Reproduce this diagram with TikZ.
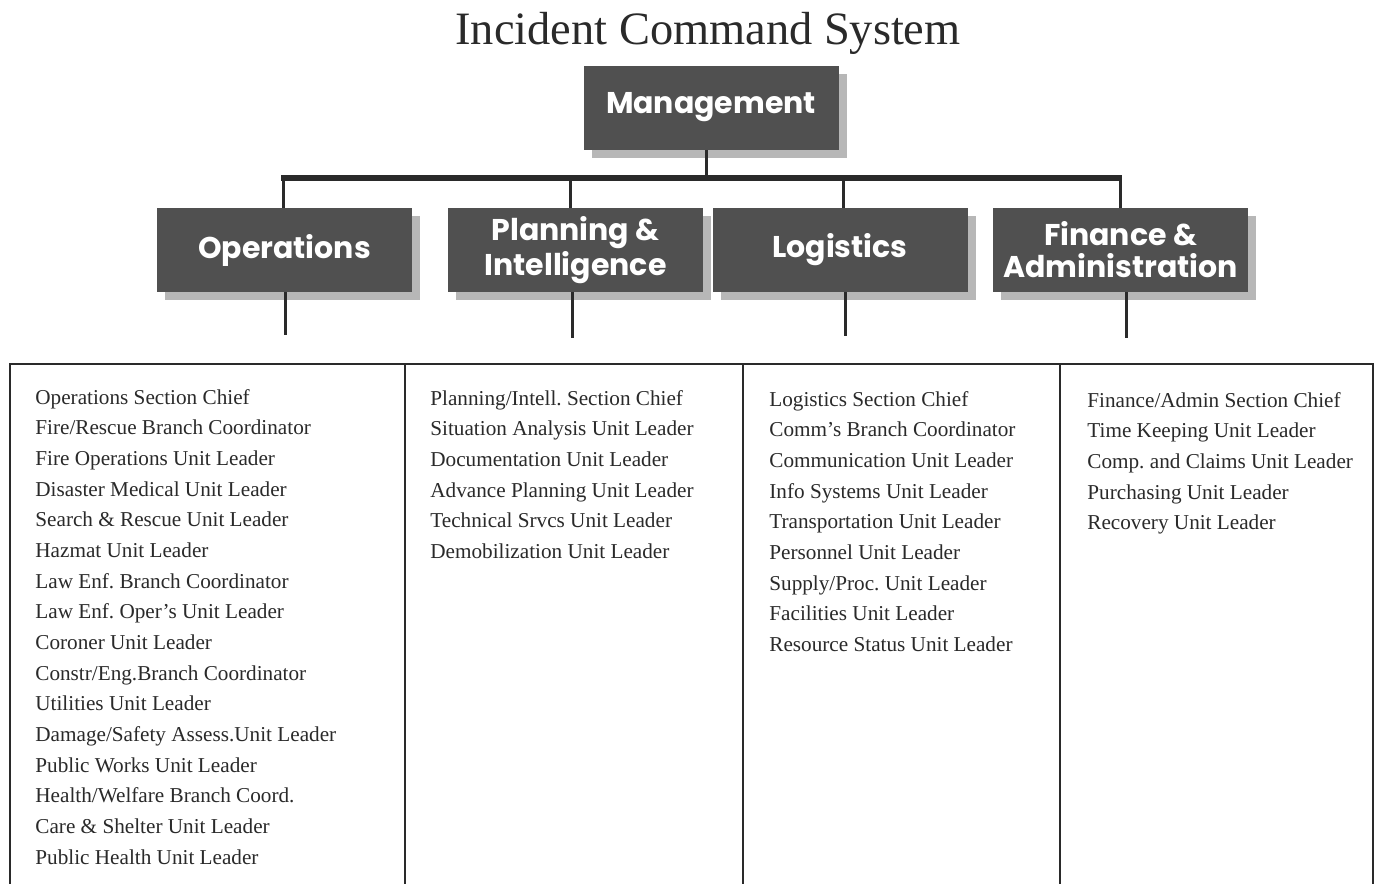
\documentclass[tikz,border=0pt]{standalone}
\usepackage{fontspec}
\setmainfont{Liberation Serif}
\newfontfamily\boxfont{Poppins}
\usetikzlibrary{shadows}
\definecolor{boxgray}{HTML}{505050}
\definecolor{shadowgray}{HTML}{ABABAB}
\definecolor{inkgray}{HTML}{2A2A2A}
\tikzset{
  x=0.5pt, y=-0.5pt,
  secbox/.style={draw=none, fill=boxgray, text=white, inner sep=0pt,
    minimum width=127.5pt, minimum height=42pt, align=center,
    font=\boxfont\bfseries\fontsize{15}{16}\selectfont,
    drop shadow={shadow xshift=4pt, shadow yshift=-4pt, fill=shadowgray, opacity=0.85}},
  orgline/.style={draw=inkgray, line width=1.5pt},
  barline/.style={draw=inkgray, line width=2.6pt},
  tabline/.style={draw=inkgray, line width=1pt},
  listtxt/.style={anchor=north west, inner sep=0pt, align=left, text=inkgray,
    font=\fontsize{10.6}{15.33}\selectfont},
  titletxt/.style={inner sep=0pt, text=inkgray, font=\fontsize{23.2}{26}\selectfont}
}
\begin{document}
\frenchspacing
\begin{tikzpicture}
\useasboundingbox[fill=white] (0,0) rectangle (1377,884);

\node[titletxt] (title) at (708,33) {Incident Command System};

\node[secbox] (mgmt) at (711,107.5) {Management};
\node[secbox] (ops)  at (284.5,250) {Operations};
\node[secbox] (plan) at (575.5,250) {Planning \&\\Intelligence};
\node[secbox] (log)  at (840,250)   {Logistics};
\node[secbox] (fin)  at (1120.5,250) {Finance \&\\Administration};

% bar and junctions
\coordinate (jM) at (706,178);
\coordinate (jO) at (283,178);
\coordinate (jP) at (570,178);
\coordinate (jL) at (843,178);
\coordinate (jF) at (1120,178);
\draw[barline] ([xshift=-1pt]jO) -- ([xshift=1pt]jF);
\draw[orgline] (jM |- mgmt.south) -- (jM);
\draw[orgline] (jO) -- (jO |- ops.north);
\draw[orgline] (jP) -- (jP |- plan.north);
\draw[orgline] (jL) -- (jL |- log.north);
\draw[orgline] (jF) -- (jF |- fin.north);

% drops below sections
\coordinate (opsEnd)  at (285,335);
\coordinate (planEnd) at (572,338);
\coordinate (logEnd)  at (845,336);
\coordinate (finEnd)  at (1126,338);
\draw[orgline] (opsEnd |- ops.south)   -- (opsEnd);
\draw[orgline] (planEnd |- plan.south) -- (planEnd);
\draw[orgline] (logEnd |- log.south)   -- (logEnd);
\draw[orgline] (finEnd |- fin.south)   -- (finEnd);

% table
\coordinate (tTL) at (10,364);
\coordinate (tTR) at (1373,364);
\coordinate (tBL) at (10,884);
\coordinate (tBR) at (1373,884);
\draw[tabline] (tBL) -- (tTL) -- (tTR) -- (tBR);
\coordinate (d1t) at (405,364); \coordinate (d1b) at (405,884);
\coordinate (d2t) at (743,364); \coordinate (d2b) at (743,884);
\coordinate (d3t) at (1060,364); \coordinate (d3b) at (1060,884);
\draw[tabline] (d1t) -- (d1b);
\draw[tabline] (d2t) -- (d2b);
\draw[tabline] (d3t) -- (d3b);

\node[listtxt] (opslist) at (35,389) {Operations Section Chief\\
Fire/Rescue Branch Coordinator\\
Fire Operations Unit Leader\\
Disaster Medical Unit Leader\\
Search \& Rescue Unit Leader\\
Hazmat Unit Leader\\
Law Enf. Branch Coordinator\\
Law Enf. Oper's Unit Leader\\
Coroner Unit Leader\\
Constr/Eng.Branch Coordinator\\
Utilities Unit Leader\\
Damage/Safety Assess.Unit Leader\\
Public Works Unit Leader\\
Health/Welfare Branch Coord.\\
Care \& Shelter Unit Leader\\
Public Health Unit Leader};

\node[listtxt] (planlist) at (430,390) {Planning/Intell. Section Chief\\
Situation Analysis Unit Leader\\
Documentation Unit Leader\\
Advance Planning Unit Leader\\
Technical Srvcs Unit Leader\\
Demobilization Unit Leader};

\node[listtxt] (loglist) at (769,391) {Logistics Section Chief\\
Comm's Branch Coordinator\\
Communication Unit Leader\\
Info Systems Unit Leader\\
Transportation Unit Leader\\
Personnel Unit Leader\\
Supply/Proc. Unit Leader\\
Facilities Unit Leader\\
Resource Status Unit Leader};

\node[listtxt] (finlist) at (1087,392) {Finance/Admin Section Chief\\
Time Keeping Unit Leader\\
Comp. and Claims Unit Leader\\
Purchasing Unit Leader\\
Recovery Unit Leader};
\end{tikzpicture}
\end{document}
